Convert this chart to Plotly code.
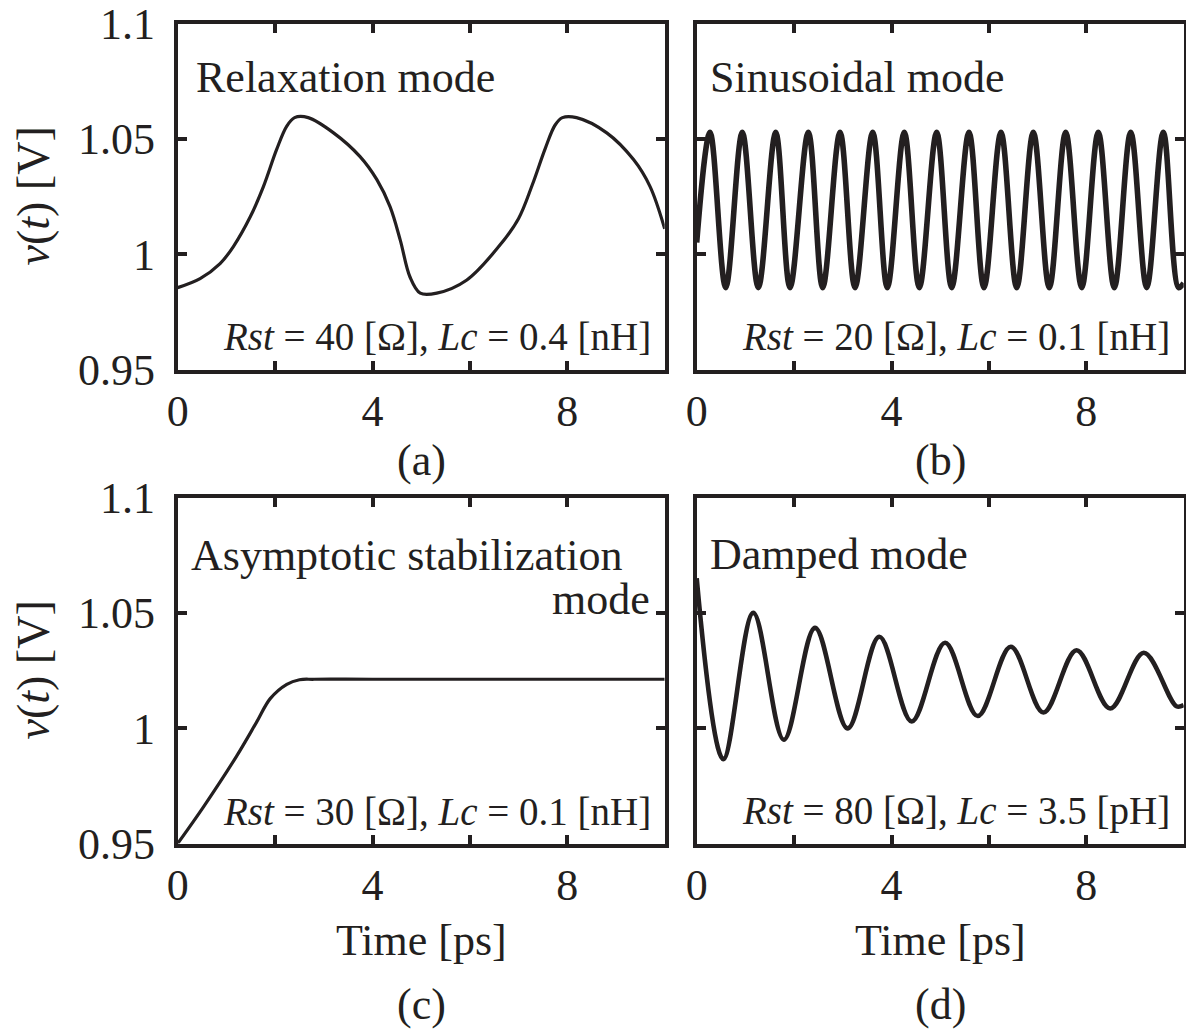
import plotly.graph_objects as go

# ---- data (time in ps, voltage in V) ----
t_relax = [0.0, 0.46, 0.87, 1.14, 1.49, 1.76, 2.03, 2.24, 2.40, 2.68, 3.20, 3.74, 4.09,
           4.36, 4.57, 4.77, 4.98, 5.32, 5.93, 6.60, 7.00, 7.28, 7.55, 7.75, 7.90, 8.19,
           8.81, 9.36, 9.70, 10.0]
v_relax = [0.9855, 0.9894, 0.9959, 1.0032, 1.0162, 1.0293, 1.0453, 1.0555, 1.0592, 1.0592,
           1.0526, 1.0424, 1.0323, 1.0206, 1.0061, 0.9901, 0.9831, 0.9831, 0.9887, 1.0035,
           1.0155, 1.0300, 1.0460, 1.0560, 1.0592, 1.0592, 1.0526, 1.0410, 1.0293, 1.0110]

t_sinus = [0.0, 0.273, 0.595, 0.936, 1.265, 1.622, 1.916, 2.292, 2.587, 2.943, 3.251,
           3.614, 3.914, 4.263, 4.571, 4.928, 5.236, 5.591, 5.899, 6.248, 6.571, 6.912,
           7.240, 7.577, 7.906, 8.246, 8.575, 8.912, 9.240, 9.581, 9.897, 10.0]
v_sinus = [1.0050, 1.0528, 0.9855, 1.0528, 0.9855, 1.0528, 0.9855, 1.0528, 0.9855, 1.0528,
           0.9855, 1.0528, 0.9855, 1.0528, 0.9855, 1.0528, 0.9855, 1.0528, 0.9855, 1.0528,
           0.9855, 1.0528, 0.9855, 1.0528, 0.9855, 1.0528, 0.9855, 1.0528, 0.9855, 1.0528,
           0.9855, 0.9875]

t_asym = [0.0, 0.53, 1.21, 1.62, 1.90, 2.24, 2.50, 2.80, 4.0, 10.0]
v_asym = [0.9500, 0.9659, 0.9879, 1.0026, 1.0128, 1.0190, 1.0210, 1.0212, 1.0212, 1.0212]

t_damp = [0.0, 0.546, 1.162, 1.79, 2.43, 3.10, 3.75, 4.415, 5.10, 5.77, 6.45, 7.12,
          7.80, 8.49, 9.18, 9.85, 10.0]
v_damp = [1.0650, 0.9866, 1.0500, 0.9950, 1.0435, 0.9999, 1.0396, 1.0029, 1.0370,
          1.0053, 1.0353, 1.0068, 1.0338, 1.0085, 1.0327, 1.0095, 1.0100]

x_ticks = [0, 2, 4, 6, 8, 10]
x_tick_text = ["0", "", "4", "", "8", ""]
y_ticks = [0.95, 1.0, 1.05, 1.1]
y_tick_text = ["0.95", "1", "1.05", "1.1"]

mode_titles = ["Relaxation mode", "Sinusoidal mode", "Asymptotic stabilization", "Damped mode"]
params = ["<i>Rst</i> = 40 [Ω], <i>Lc</i> = 0.4 [nH]",
          "<i>Rst</i> = 20 [Ω], <i>Lc</i> = 0.1 [nH]",
          "<i>Rst</i> = 30 [Ω], <i>Lc</i> = 0.1 [nH]",
          "<i>Rst</i> = 80 [Ω], <i>Lc</i> = 3.5 [pH]"]
panel_tags = ["(a)", "(b)", "(c)", "(d)"]

# ---- layout geometry ----
W, H = 1186, 1033
INK = "#231f20"
FONT = "Liberation Serif"

def px_x(p):
    return p / W

def px_y(p):
    return 1 - p / H

col_x = [(177.7, 664.7), (696.7, 1183.7)]
row_y = [(23.5, 369.5), (497.5, 843.5)]

fig = go.Figure()

series = [(t_relax, v_relax, 3.2), (t_sinus, v_sinus, 5.6), (t_asym, v_asym, 3.2), (t_damp, v_damp, 4.6)]

for i, (t, v, lw) in enumerate(series):
    r, c = divmod(i, 2)
    ax = "" if i == 0 else str(i + 1)
    fig.add_trace(go.Scatter(
        x=t, y=v, mode="lines", xaxis="x" + ax, yaxis="y" + ax,
        line=dict(color=INK, width=lw, shape="spline", smoothing=1.0),
        showlegend=False, hoverinfo="skip"))
    x0, x1 = col_x[c]
    ytop, ybot = row_y[r]
    common = dict(ticks="inside", ticklen=9, tickwidth=3.5, tickcolor=INK,
                  showline=True, linewidth=4, linecolor=INK, mirror="ticks",
                  showgrid=False, zeroline=False, automargin=False,
                  ticklabeloverflow="allow",
                  tickfont=dict(family=FONT, size=44, color=INK))
    fig.layout["xaxis" + ax] = dict(
        domain=[px_x(x0), px_x(x1)], range=[0, 10], anchor="y" + ax,
        tickmode="array", tickvals=x_ticks, ticktext=x_tick_text,
        ticklabelstandoff=0, **common)
    fig.layout["yaxis" + ax] = dict(
        domain=[px_y(ybot), px_y(ytop)], range=[0.95, 1.1], anchor="x" + ax,
        tickmode="array", tickvals=y_ticks, ticktext=y_tick_text,
        showticklabels=(c == 0), ticklabelstandoff=10, **common)

annotations = []

def note(text, x, y, xanchor="left", size=44, angle=0, box_h=None):
    ann = dict(
        text=text, x=px_x(x), y=px_y(y), xref="paper", yref="paper",
        xanchor=xanchor, yanchor="middle", showarrow=False, textangle=angle,
        font=dict(family=FONT, size=size, color=INK))
    if box_h is not None:
        ann.update(height=box_h, valign="middle")
    annotations.append(ann)

# mode names inside each panel
note(mode_titles[0], 194, 78)
note(mode_titles[1], 708, 78)
note(mode_titles[2], 189, 555)
note("mode", 652, 599, xanchor="right", box_h=36)
note(mode_titles[3], 708, 554)

# circuit parameters, bottom right of each panel
for i, txt in enumerate(params):
    r, c = divmod(i, 2)
    right = col_x[c][1] - 12
    yy = [336, 811][r]
    note(txt, right, yy, xanchor="right", size=39)

# panel tags and axis titles
for i, tag in enumerate(panel_tags):
    r, c = divmod(i, 2)
    xc = sum(col_x[c]) / 2
    note(tag, xc, [460, 1004][r], xanchor="center", size=44)

for c in range(2):
    xc = sum(col_x[c]) / 2
    note("Time [ps]", xc, 940, xanchor="center", size=44)

for r in range(2):
    yc = sum(row_y[r]) / 2
    note("<i>v</i>(<i>t</i>) [V]", 33, yc, xanchor="center", size=46, angle=-90)

fig.update_layout(
    width=W, height=H, autosize=False,
    margin=dict(l=0, r=0, t=0, b=0),
    paper_bgcolor="white", plot_bgcolor="white",
    annotations=annotations,
)

fig.write_html("out.html")
